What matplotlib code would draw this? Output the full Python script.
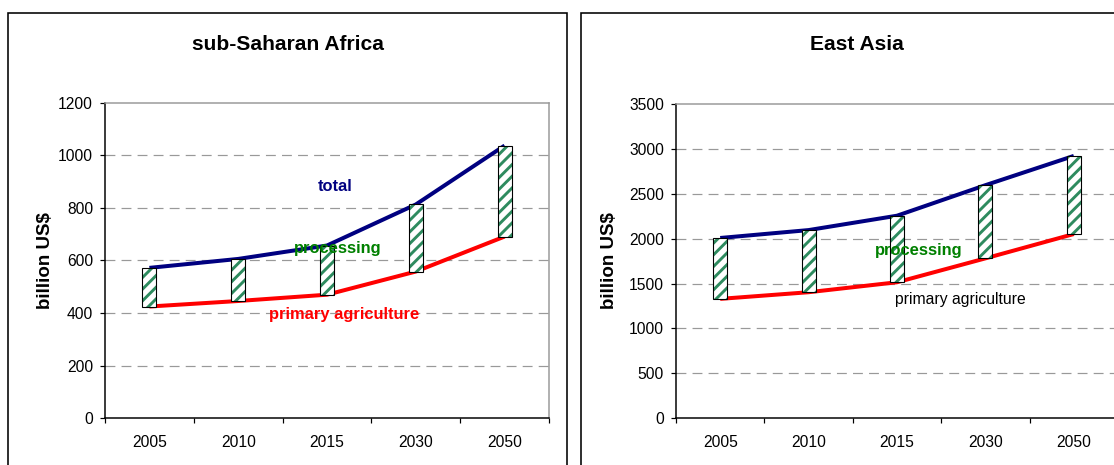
import matplotlib
matplotlib.use("Agg")
import matplotlib.pyplot as plt
from matplotlib.patches import Rectangle
import numpy as np

plt.rcParams['font.family'] = ['Liberation Sans', 'DejaVu Sans']
plt.rcParams['hatch.linewidth'] = 3.0

years = ['2005', '2010', '2015', '2030', '2050']

ssa_total = [572, 606, 657, 813, 1037]
ssa_primary = [425, 446, 470, 558, 691]

ea_total = [2008, 2096, 2256, 2596, 2922]
ea_primary = [1330, 1404, 1515, 1781, 2052]

W, H, DPI = 1114, 465, 70
fig = plt.figure(figsize=(W / DPI, H / DPI), dpi=DPI)


def pt(px):
    # pixel size -> points at this dpi
    return px * 72.0 / DPI


def axes_at(x0, x1, y0, y1):
    return fig.add_axes([x0 / W, 1 - y1 / H, (x1 - x0) / W, (y1 - y0) / H])


# outer frames of the two charts
for fx0, fx1 in [(8, 566.5), (581, 1130)]:
    fig.patches.append(Rectangle((fx0 / W, -0.1), (fx1 - fx0) / W, 1.1 - 13 / H,
                                 transform=fig.transFigure, fill=False,
                                 edgecolor='black', linewidth=pt(1.6)))


def panel(ax, total, primary, ymax, ystep):
    x = np.arange(len(years))
    total = np.array(total)
    primary = np.array(primary)
    ax.set_xlim(-0.5, len(years) - 0.5)
    ax.set_ylim(0, ymax)
    ax.set_yticks(np.arange(0, ymax + 1, ystep))
    ax.set_xticks(np.arange(-0.5, len(years), 1.0))
    ax.set_xticklabels([])
    ax.set_xticks(x, minor=True)
    ax.set_xticklabels(years, minor=True)
    ax.tick_params(axis='x', which='minor', length=0, pad=pt(17), labelsize=pt(15.6))
    ax.tick_params(axis='x', which='major', length=pt(5), width=pt(1.2), direction='out')
    ax.tick_params(axis='y', length=pt(5), width=pt(1.2), direction='out', pad=pt(7),
                   labelsize=pt(15.6))
    for yv in np.arange(ystep, ymax, ystep):
        ax.axhline(yv, color='#999999', linewidth=pt(1.2), dashes=(pt(8), pt(5)), zorder=0)
    for s in ['top', 'right']:
        ax.spines[s].set_color('#999999')
        ax.spines[s].set_linewidth(pt(1.5))
    for s in ['left', 'bottom']:
        ax.spines[s].set_color('black')
        ax.spines[s].set_linewidth(pt(1.5))

    ax.plot(x, total, color='#000080', linewidth=pt(4), zorder=2, solid_capstyle='butt')
    ax.plot(x, primary, color='#ff0000', linewidth=pt(4), zorder=2, solid_capstyle='butt')
    ax.bar(x, total - primary, bottom=primary, width=0.158, color='white',
           edgecolor='#2e8b5f', linewidth=0, hatch='//', zorder=3)
    ax.bar(x, total - primary, bottom=primary, width=0.158, fill=False,
           edgecolor='black', linewidth=pt(1.1), zorder=4)


ax1 = axes_at(105, 549, 102.7, 418.3)
panel(ax1, ssa_total, ssa_primary, 1200, 200)
ax1.text(2.09, 880, 'total', color='#000080', fontsize=pt(16.5), fontweight='bold',
         ha='center', va='center', zorder=5)
ax1.text(2.12, 647, 'processing', color='#008000', fontsize=pt(16.5), fontweight='bold',
         ha='center', va='center', zorder=5)
ax1.text(2.19, 396, 'primary agriculture', color='#ff0000', fontsize=pt(16.5),
         fontweight='bold', ha='center', va='center', zorder=5)

ax2 = axes_at(676, 1118, 104, 418.3)
panel(ax2, ea_total, ea_primary, 3500, 500)
ax2.text(2.25, 1874, 'processing', color='#008000', fontsize=pt(16.5), fontweight='bold',
         ha='center', va='center', zorder=5)
ax2.text(2.72, 1328, 'primary agriculture', color='black', fontsize=pt(15.8),
         ha='center', va='center', zorder=5)

fig.text(288 / W, 1 - 44 / H, 'sub-Saharan Africa', fontsize=pt(21), fontweight='bold',
         ha='center', va='center')
fig.text(857 / W, 1 - 44 / H, 'East Asia', fontsize=pt(21), fontweight='bold',
         ha='center', va='center')
fig.text(45 / W, 1 - 261 / H, 'billion US$', fontsize=pt(18.8), fontweight='bold',
         rotation=90, ha='center', va='center')
fig.text(609 / W, 1 - 261 / H, 'billion US$', fontsize=pt(18.8), fontweight='bold',
         rotation=90, ha='center', va='center')

fig.savefig('out.png', dpi=DPI)
